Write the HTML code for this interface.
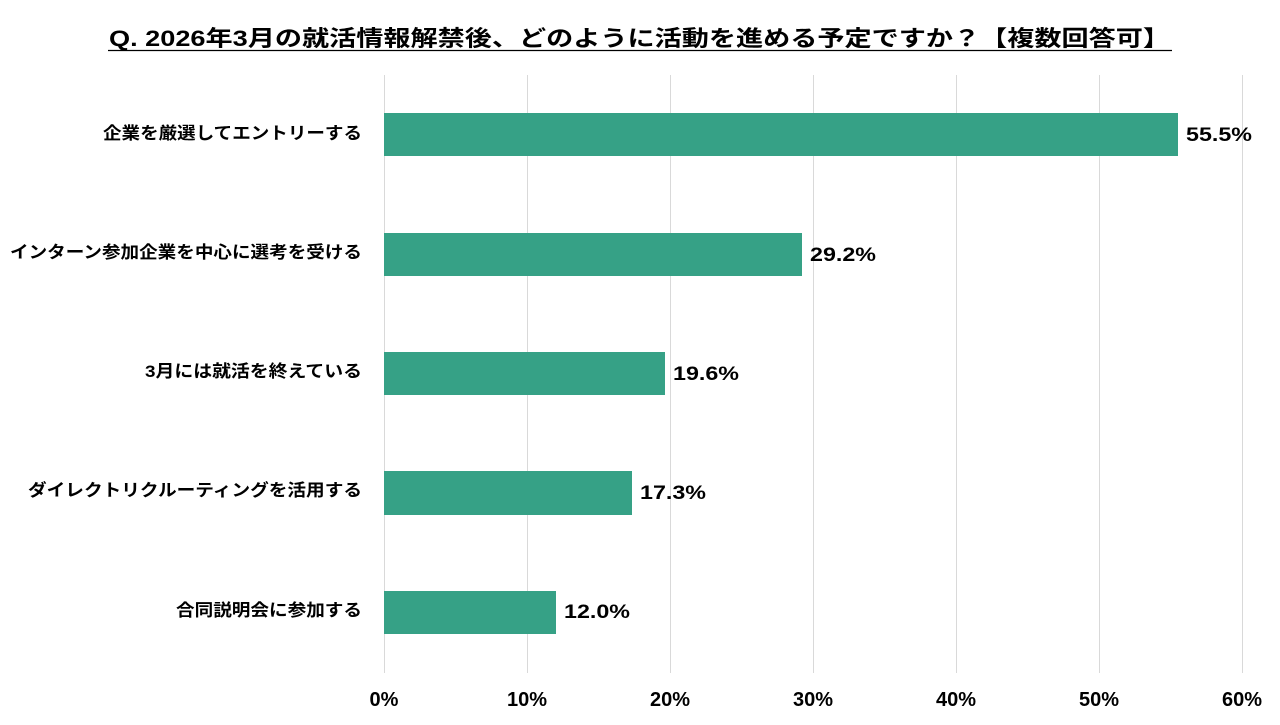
<!DOCTYPE html>
<html><head><meta charset="utf-8"><style>
html,body{margin:0;padding:0;background:#fff;}
svg text{font-family:"Liberation Sans","Noto Sans CJK JP",sans-serif;font-weight:bold;fill:#000;}
</style></head><body>
<svg width="1280" height="720" xmlns="http://www.w3.org/2000/svg">
<text x="109" y="46" font-size="22" textLength="1061" lengthAdjust="spacingAndGlyphs">Q. 2026年3月の就活情報解禁後、どのように活動を進める予定ですか？【複数回答可】</text>
<line x1="108" y1="50.5" x2="1172" y2="50.5" stroke="#000" stroke-width="1.2"/>
<g stroke="#d9d9d9" stroke-width="1">
<line x1="384.5" y1="75" x2="384.5" y2="673"/>
<line x1="527.5" y1="75" x2="527.5" y2="673"/>
<line x1="670.5" y1="75" x2="670.5" y2="673"/>
<line x1="813.5" y1="75" x2="813.5" y2="673"/>
<line x1="956.5" y1="75" x2="956.5" y2="673"/>
<line x1="1099.5" y1="75" x2="1099.5" y2="673"/>
<line x1="1242.5" y1="75" x2="1242.5" y2="673"/>
</g>
<g fill="#36a186">
<rect x="384" y="113" width="794" height="43"/>
<rect x="384" y="233" width="418" height="43"/>
<rect x="384" y="352" width="281" height="43"/>
<rect x="384" y="471" width="248" height="44"/>
<rect x="384" y="591" width="172" height="43"/>
</g>
<g font-size="19">
<text x="1186" y="141" textLength="66" lengthAdjust="spacingAndGlyphs">55.5%</text>
<text x="810" y="261" textLength="66" lengthAdjust="spacingAndGlyphs">29.2%</text>
<text x="673" y="380" textLength="66" lengthAdjust="spacingAndGlyphs">19.6%</text>
<text x="640" y="499" textLength="66" lengthAdjust="spacingAndGlyphs">17.3%</text>
<text x="564" y="618" textLength="66" lengthAdjust="spacingAndGlyphs">12.0%</text>
</g>
<g font-size="17">
<text x="103" y="139" textLength="259" lengthAdjust="spacingAndGlyphs">企業を厳選してエントリーする</text>
<text x="10" y="258" textLength="352" lengthAdjust="spacingAndGlyphs">インターン参加企業を中心に選考を受ける</text>
<text x="145" y="377" textLength="217" lengthAdjust="spacingAndGlyphs">3月には就活を終えている</text>
<text x="28" y="496" textLength="334" lengthAdjust="spacingAndGlyphs">ダイレクトリクルーティングを活用する</text>
<text x="176" y="616" textLength="186" lengthAdjust="spacingAndGlyphs">合同説明会に参加する</text>
</g>
<g font-size="20" text-anchor="middle">
<text x="384" y="706">0%</text>
<text x="527" y="706">10%</text>
<text x="670" y="706">20%</text>
<text x="813" y="706">30%</text>
<text x="956" y="706">40%</text>
<text x="1099" y="706">50%</text>
<text x="1242" y="706">60%</text>
</g>
</svg>
</body></html>
